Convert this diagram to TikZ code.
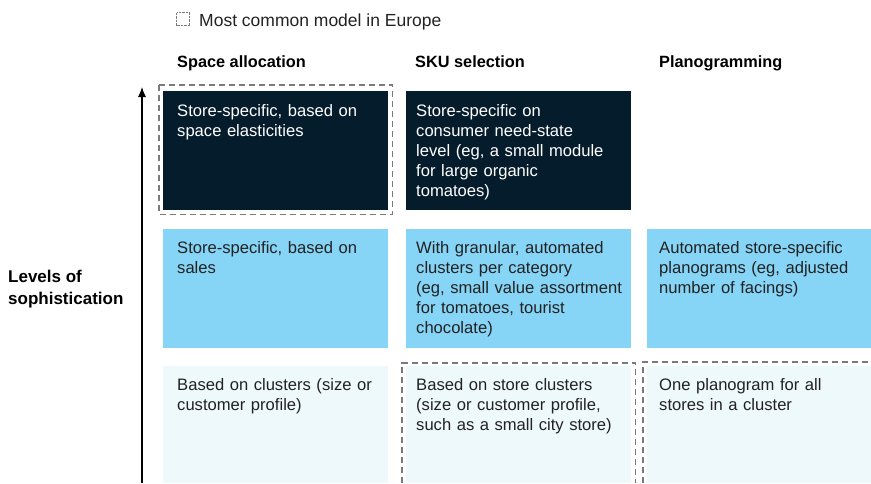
\documentclass[tikz,border=0pt]{standalone}
\usepackage{fontspec}
\setmainfont{Liberation Sans}
\usetikzlibrary{positioning,arrows.meta}

\definecolor{navy}{HTML}{051C2C}
\definecolor{skyblue}{HTML}{86D4F6}
\definecolor{paleblue}{HTML}{EEF9FC}
\definecolor{framegray}{HTML}{7A7A7A}
\definecolor{inkgray}{HTML}{222222}

\begin{document}
\begin{tikzpicture}[x=1pt, y=-1pt, font=\fontsize{16.6}{20}\selectfont, >={Latex[length=10pt,width=8pt]},
  cell/.style={anchor=north west, inner sep=0, minimum width=225pt, minimum height=119pt},
  celltext/.style={anchor=north west, inner sep=0, text width=215pt, align=left, text=inkgray},
  head/.style={anchor=base west, inner sep=0, font=\fontsize{16.3}{20}\selectfont\bfseries, text=black},
  frame/.style={draw=framegray, line width=1.1pt, dash pattern=on 6pt off 4pt}]
  \useasboundingbox (0,0) rectangle (871,483);

  % ---- legend ----
  \node[draw=framegray, densely dotted, minimum size=13pt, inner sep=0] (key) at (183,19) {};
  \node[anchor=base west, inner sep=0, text=inkgray, font=\fontsize{17.5}{20}\selectfont] (keytext) at (199,26) {Most common model in Europe};

  % ---- column heads ----
  \node[head] (hsa) at (177,67) {Space allocation};
  \node[head] (hsku) at (415,67) {SKU selection};
  \node[head] (hpl) at (659,67) {Planogramming};

  % ---- axis ----
  \node[anchor=north west, inner sep=0, align=left, font=\fontsize{17}{22}\selectfont\bfseries] (levels) at (8,270) {Levels of\\sophistication};
  \coordinate (axisbot) at (142,483);
  \coordinate (axistop) at (142,87);
  \draw[->, line width=1.1pt] (axisbot) -- (axistop);

  % ---- top row ----
  \node[cell, fill=navy] (sa3) at (163,91) {};
  \node[cell, fill=navy] (sku3) at (406,91) {};
  \node[celltext, text=white] (sa3t) at ([shift={(14,13)}]sa3.north west) {Store-specific, based on\\space elasticities};
  \node[celltext, text=white] (sku3t) at ([shift={(10,13)}]sku3.north west) {Store-specific on\\consumer need-state\\level (eg, a small module\\for large organic\\tomatoes)};

  % ---- middle row ----
  \node[cell, fill=skyblue] (sa2) at (163,229) {};
  \node[cell, fill=skyblue] (sku2) at (406,229) {};
  \node[cell, fill=skyblue, minimum width=224pt] (pl2) at (647,229) {};
  \node[celltext] (sa2t) at ([shift={(14,12)}]sa2.north west) {Store-specific, based on\\sales};
  \node[celltext] (sku2t) at ([shift={(10,12)}]sku2.north west) {With granular, automated\\clusters per category\\(eg, small value assortment\\for tomatoes, tourist\\chocolate)};
  \node[celltext] (pl2t) at ([shift={(12,12)}]pl2.north west) {Automated store-specific\\planograms (eg, adjusted\\number of facings)};

  % ---- bottom row ----
  \node[cell, fill=paleblue, minimum height=117pt] (sa1) at (163,366) {};
  \node[cell, fill=paleblue, minimum height=117pt] (sku1) at (406,366) {};
  \node[cell, fill=paleblue, minimum height=117pt, minimum width=224pt] (pl1) at (647,366) {};
  \node[celltext] (sa1t) at ([shift={(14,12)}]sa1.north west) {Based on clusters (size or\\customer profile)};
  \node[celltext] (sku1t) at ([shift={(10,12)}]sku1.north west) {Based on store clusters\\(size or customer profile,\\such as a small city store)};
  \node[celltext] (pl1t) at ([shift={(12,12)}]pl1.north west) {One planogram for all\\stores in a cluster};

  % ---- most common model frames ----
  \draw[frame] ([shift={(-4,-6)}]sa3.north west) rectangle ([shift={(4,4)}]sa3.south east);
  \draw[frame] ([shift={(-4,0)}]sku1.south west) -- ([shift={(-4,-3)}]sku1.north west) -- ([shift={(4,-3)}]sku1.north east) -- ([shift={(4,0)}]sku1.south east);
  \draw[frame] ([shift={(-4,0)}]pl1.south west) -- ([shift={(-4,-4)}]pl1.north west) -- ([shift={(0,-4)}]pl1.north east);
\end{tikzpicture}
\end{document}
